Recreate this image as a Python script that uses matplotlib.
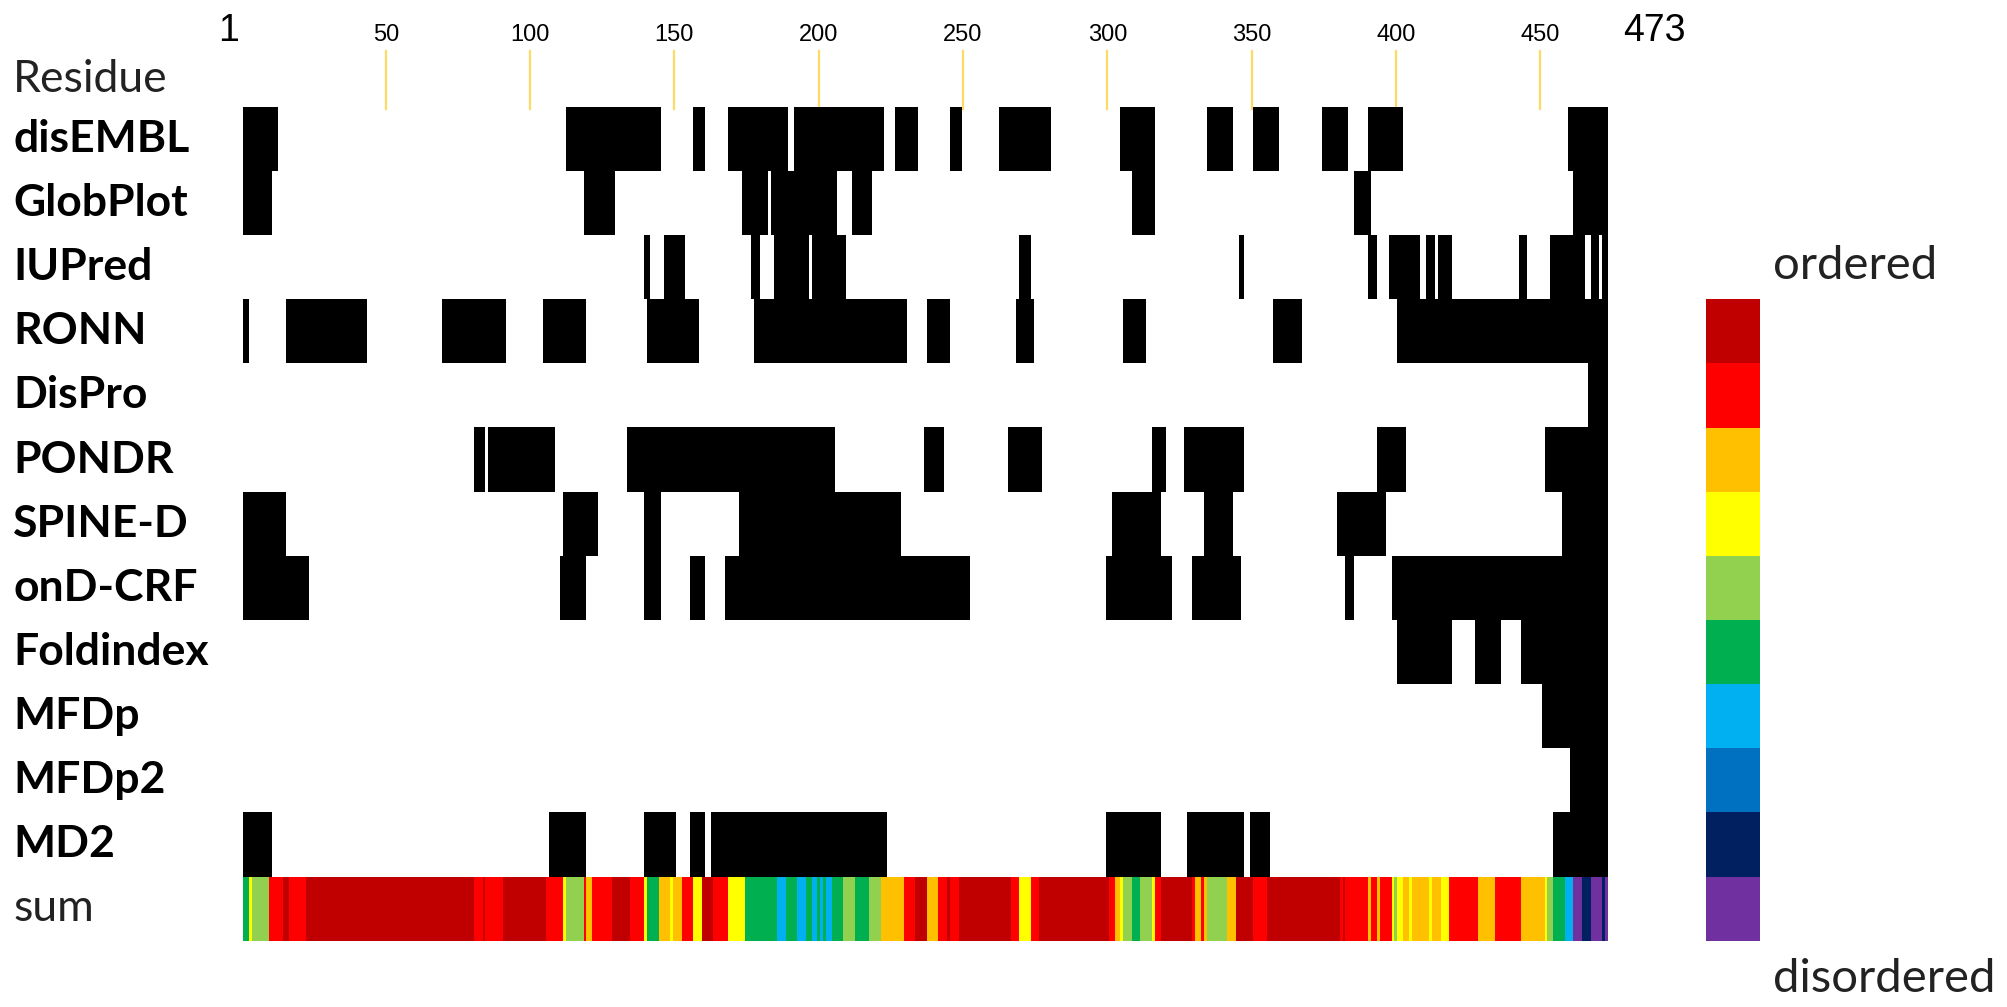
import matplotlib
matplotlib.use('Agg')
import matplotlib.pyplot as plt
from matplotlib import font_manager
from matplotlib.transforms import blended_transform_factory

# residue ranges predicted as disordered (inclusive)
predictors = ['disEMBL', 'GlobPlot', 'IUPred', 'RONN', 'DisPro', 'PONDR',
              'SPINE-D', 'onD-CRF', 'Foldindex', 'MFDp', 'MFDp2', 'MD2']

disembl = [(1, 12), (113, 145), (157, 160), (169, 189), (192, 222), (227, 234),
           (246, 249), (263, 280), (305, 316), (335, 343), (351, 359), (375, 383),
           (391, 402), (460, 473)]
globplot = [(1, 10), (119, 129), (174, 182), (184, 206), (212, 218), (309, 316),
            (386, 391), (462, 473)]
iupred = [(140, 141), (147, 153), (177, 179), (185, 196), (198, 209), (270, 273),
          (346, 347), (391, 393), (398, 405), (406, 408), (411, 413), (415, 419),
          (443, 445), (454, 465), (468, 470), (472, 473)]
ronn = [(1, 2), (16, 43), (70, 91), (105, 119), (141, 158), (178, 230), (238, 245),
        (269, 274), (306, 313), (358, 367), (401, 473)]
dispro = [(467, 473)]
pondr = [(81, 84), (86, 108), (134, 205), (237, 243), (266, 277), (316, 320),
         (327, 347), (394, 403), (452, 473)]
spined = [(1, 15), (112, 123), (140, 145), (173, 228), (302, 318), (334, 343),
          (380, 396), (458, 473)]
ondcrf = [(1, 23), (111, 119), (140, 145), (156, 160), (168, 174), (175, 252),
          (300, 322), (330, 346), (383, 385), (399, 473)]
foldindex = [(401, 419), (428, 436), (444, 473)]
mfdp = [(451, 473)]
mfdp2 = [(461, 473)]
md2 = [(1, 10), (107, 119), (140, 150), (156, 160), (163, 223), (300, 318),
       (328, 347), (350, 356), (455, 473)]

segments = [disembl, globplot, iupred, ronn, dispro, pondr,
            spined, ondcrf, foldindex, mfdp, mfdp2, md2]

# consensus row: (start, end, level) with level 0 = ordered ... 9 = disordered
sum_runs = [(1, 2, 5), (3, 3, 3), (4, 9, 4), (10, 14, 1), (15, 16, 0), (17, 22, 1),
            (23, 80, 0), (81, 83, 1), (84, 84, 0), (85, 90, 1), (91, 105, 0),
            (106, 111, 1), (112, 112, 3), (113, 118, 4), (119, 119, 1), (120, 121, 2),
            (122, 128, 1), (129, 134, 0), (135, 139, 1), (140, 140, 3), (141, 144, 5),
            (145, 148, 2), (149, 149, 3), (150, 152, 2), (153, 156, 1), (157, 159, 3),
            (160, 163, 0), (164, 168, 1), (169, 174, 3), (175, 185, 5), (186, 188, 6),
            (189, 192, 5), (193, 195, 6), (196, 197, 5), (198, 199, 6), (200, 200, 5),
            (201, 201, 6), (202, 202, 5), (203, 204, 6), (205, 208, 5), (209, 212, 4),
            (213, 217, 5), (218, 221, 4), (222, 229, 2), (230, 233, 1), (234, 237, 0),
            (238, 241, 2), (242, 244, 1), (245, 245, 0), (246, 248, 1), (249, 266, 0),
            (267, 269, 1), (270, 273, 3), (274, 276, 1), (277, 300, 0), (301, 302, 1),
            (303, 304, 2), (305, 305, 3), (306, 308, 4), (309, 311, 5), (312, 315, 4),
            (316, 316, 3), (317, 318, 1), (319, 329, 0), (330, 330, 1), (331, 332, 2),
            (333, 333, 1), (334, 334, 2), (335, 341, 4), (342, 344, 2), (345, 350, 0),
            (351, 355, 1), (356, 380, 0), (381, 381, 1), (382, 382, 0), (383, 390, 1),
            (391, 391, 2), (392, 393, 1), (394, 394, 2), (395, 398, 1), (399, 399, 3),
            (400, 400, 4), (401, 402, 3), (403, 404, 2), (405, 405, 3), (406, 411, 2),
            (412, 412, 3), (413, 415, 2), (416, 418, 3), (419, 428, 1), (429, 434, 2),
            (435, 443, 1), (444, 451, 2), (452, 452, 3), (453, 454, 4), (455, 458, 5),
            (459, 461, 6), (462, 464, 9), (465, 467, 8), (468, 471, 9), (472, 472, 8),
            (473, 473, 9)]

level_colors = ['#C00000', '#FF0000', '#FFC000', '#FFFF00', '#92D050',
                '#00B050', '#00B0F0', '#0070C0', '#002060', '#7030A0']

tick_vals = [50, 100, 150, 200, 250, 300, 350, 400, 450]
n_res = 473

# narrow font for the ruler numbers if we have it
names = {f.name for f in font_manager.fontManager.ttflist}
if 'Liberation Sans Narrow' in names:
    num_font, small_fs, big_fs = 'Liberation Sans Narrow', 19, 30
else:
    num_font, small_fs, big_fs = 'Liberation Sans', 17, 27

fig = plt.figure(figsize=(20.08, 10.07), dpi=100)
ax = fig.add_axes([243 / 2008, 1 - 940.7 / 1007, (1608 - 243) / 2008, 834 / 1007])
ax.set_xlim(0.5, n_res + 0.5)
ax.set_ylim(13, 0)
ax.axis('off')

for i, segs in enumerate(segments):
    ax.broken_barh([(s - 0.5, e - s + 1) for s, e in segs], (i, 1), facecolors='black')

ax.broken_barh([(s - 0.5, e - s + 1) for s, e, l in sum_runs], (12, 1),
               facecolors=[level_colors[l] for s, e, l in sum_runs])

# residue ruler
for t in tick_vals:
    ax.plot([t, t], [-0.87, 0.03], color='#FFD966', lw=1.6, clip_on=False, zorder=0)
    ax.text(t, -1.02, str(t), ha='center', va='baseline', fontsize=small_fs,
            family=num_font, clip_on=False)
ax.text(-4.5, -1.02, '1', ha='center', va='baseline', fontsize=big_fs,
        family=num_font, clip_on=False)
ax.text(489.5, -1.02, str(n_res), ha='center', va='baseline', fontsize=big_fs,
        family=num_font, clip_on=False)

# row labels
tr = blended_transform_factory(fig.transFigure, ax.transData)
ax.text(0.0065, -0.42, 'Residue', transform=tr, ha='left', va='center',
        fontsize=32, family='Lato', color='#222222')
for i, name in enumerate(predictors):
    ax.text(0.0065, i + 0.5, name, transform=tr, ha='left', va='center',
            fontsize=32, family='Lato', fontweight='bold')
ax.text(0.0065, 12.5, 'sum', transform=tr, ha='left', va='center',
        fontsize=32, family='Lato', color='#222222')

# colour key
cax = fig.add_axes([1706 / 2008, 1 - 940.7 / 1007, 54 / 2008, 10 * 64.15 / 1007])
cax.barh(range(10), 1, height=1, color=level_colors)
cax.set_ylim(9.5, -0.5)
cax.set_xlim(0, 1)
cax.axis('off')
fig.text(1773 / 2008, 1 - 266 / 1007, 'ordered', ha='left', va='center',
         fontsize=34, family='Lato', color='#222222')
fig.text(1773 / 2008, 1 - 979 / 1007, 'disordered', ha='left', va='center',
         fontsize=34, family='Lato', color='#222222')

fig.savefig('out.png', dpi=100, facecolor='white')
